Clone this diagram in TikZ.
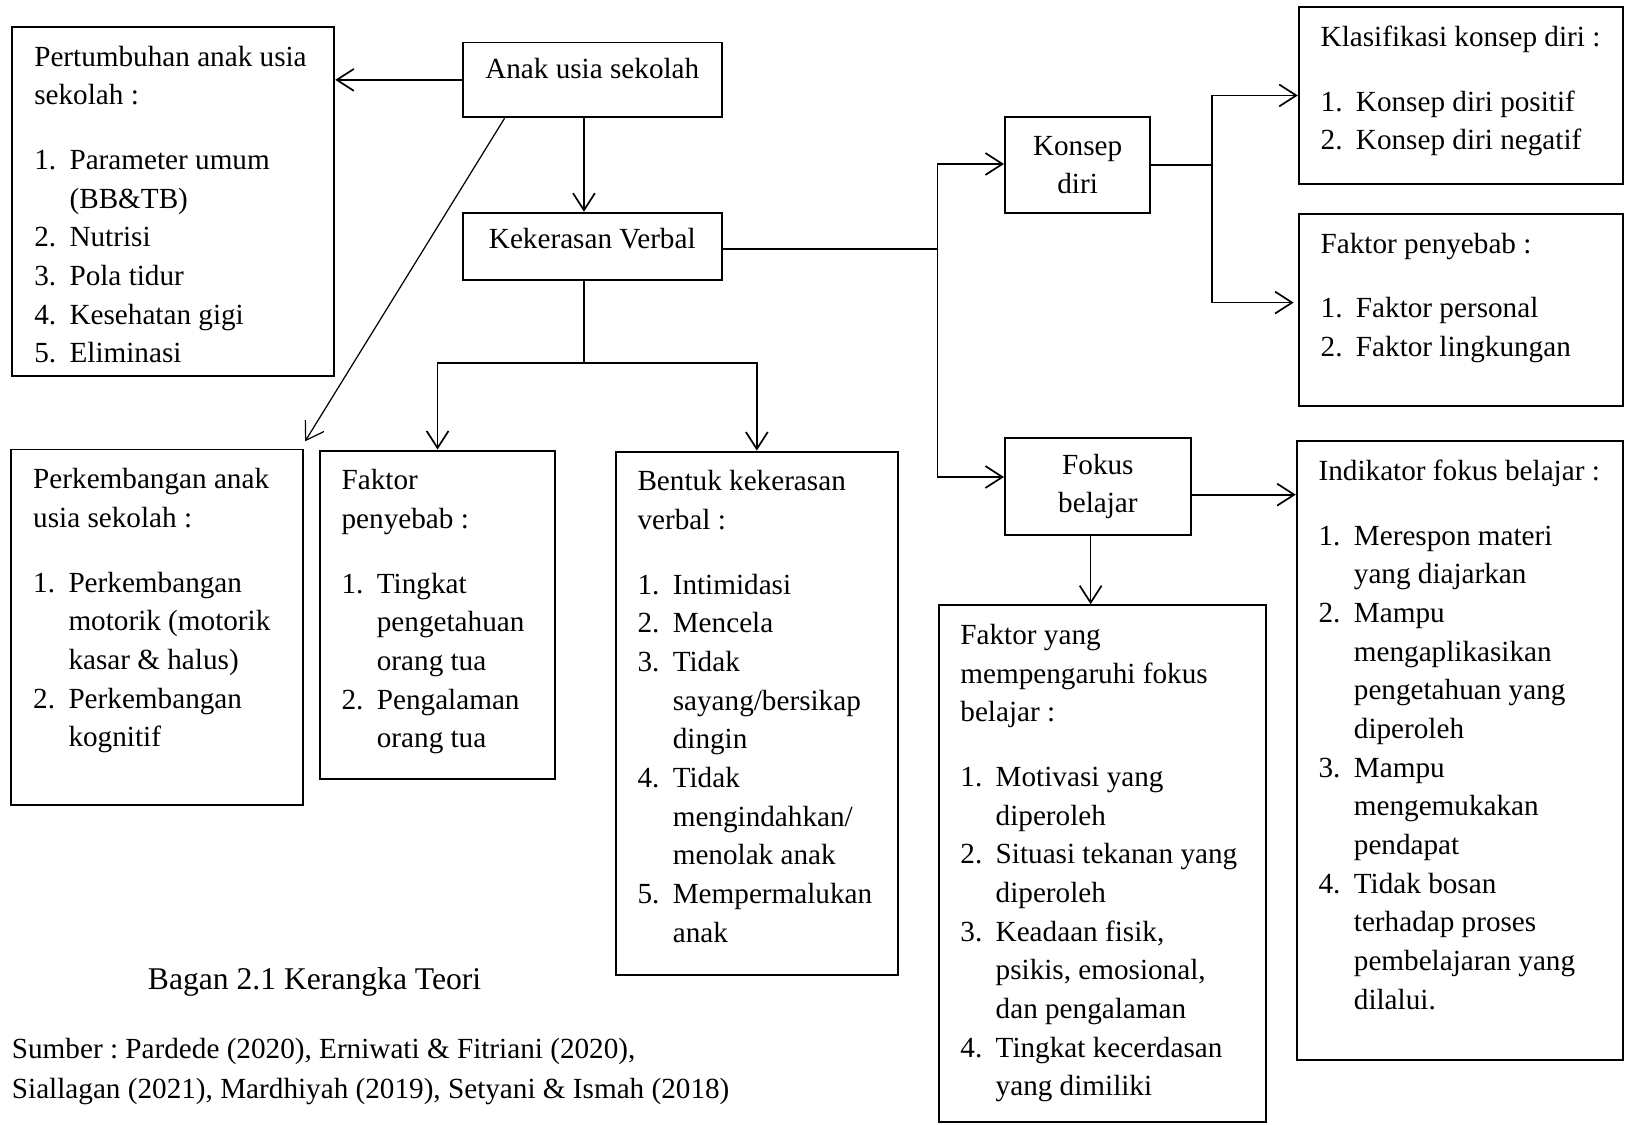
\documentclass[tikz,border=0pt]{standalone}
\usepackage{fontspec}
\setmainfont{Liberation Serif}
\usetikzlibrary{arrows.meta,calc}
\frenchspacing

\newlength\ux
\setlength\ux{0.4268pt}
% nomor butir daftar dan isi kotak (lebar, tinggi, isi)
\newcommand\nomor[1]{\makebox[14.5pt][l]{#1}}
\newcommand\daftar[3]{\parbox[t][\dimexpr#2\ux-10pt\relax][t]{\dimexpr#1\ux-18pt\relax}{\begin{tabular}[t]{@{}l@{}}#3\end{tabular}}}

\tikzset{
  kotak/.style={draw, line width=0.8pt, inner xsep=9pt, inner ysep=5pt, anchor=north west,
    font=\fontsize{12}{15.9}\selectfont},
  kotakc/.style 2 args={draw, line width=0.8pt, inner sep=0pt, anchor=north west, align=center,
    minimum width=#1*\ux, minimum height=#2*\ux, font=\fontsize{12}{15.9}\selectfont},
  garis/.style={line width=0.7pt},
  panah/.style={garis, -{Straight Barb[length=7pt,width=9pt]}},
}

\begin{document}
\begin{tikzpicture}[x=0.4268pt, y=-0.4268pt]
  \useasboundingbox (0,0) rectangle (1568,1083);

  % kotak tengah
  \node[kotakc={249}{72}, text depth=9.5pt] (anak) at (445,40) {Anak usia sekolah};
  \node[kotakc={249}{65}, text depth=7pt] (kek) at (445,204) {Kekerasan Verbal};
  \node[kotakc={140}{92}] (konsep) at (967,112) {Konsep\\diri};
  \node[kotakc={179}{93}] (fokus) at (967,421) {Fokus\\belajar};

  % kotak daftar
  \node[kotak] (pert) at (11,25) {\daftar{310}{336}{%
    Pertumbuhan anak usia\\
    sekolah :\\[10.7pt]
    \nomor{1.}Parameter umum\\
    \nomor{}(BB\&TB)\\
    \nomor{2.}Nutrisi\\
    \nomor{3.}Pola tidur\\
    \nomor{4.}Kesehatan gigi\\
    \nomor{5.}Eliminasi}};
  \node[kotak] (perk) at (10,432) {\daftar{281}{342}{%
    Perkembangan anak\\
    usia sekolah :\\[10.7pt]
    \nomor{1.}Perkembangan\\
    \nomor{}motorik (motorik\\
    \nomor{}kasar \& halus)\\
    \nomor{2.}Perkembangan\\
    \nomor{}kognitif}};
  \node[kotak] (fakm) at (307,433) {\daftar{227}{316}{%
    Faktor\\
    penyebab :\\[10.7pt]
    \nomor{1.}Tingkat\\
    \nomor{}pengetahuan\\
    \nomor{}orang tua\\
    \nomor{2.}Pengalaman\\
    \nomor{}orang tua}};
  \node[kotak] (bentuk) at (592,434) {\daftar{272}{504}{%
    Bentuk kekerasan\\
    verbal :\\[10.7pt]
    \nomor{1.}Intimidasi\\
    \nomor{2.}Mencela\\
    \nomor{3.}Tidak\\
    \nomor{}sayang/bersikap\\
    \nomor{}dingin\\
    \nomor{4.}Tidak\\
    \nomor{}mengindahkan/\\
    \nomor{}menolak anak\\
    \nomor{5.}Mempermalukan\\
    \nomor{}anak}};
  \node[kotak] (klas) at (1250,6) {\daftar{312}{170}{%
    Klasifikasi konsep diri :\\[10.7pt]
    \nomor{1.}Konsep diri positif\\
    \nomor{2.}Konsep diri negatif}};
  \node[kotak] (fakr) at (1250,205) {\daftar{312}{185}{%
    Faktor penyebab :\\[10.7pt]
    \nomor{1.}Faktor personal\\
    \nomor{2.}Faktor lingkungan}};
  \node[kotak] (ind) at (1248,424) {\daftar{314}{596}{%
    Indikator fokus belajar :\\[10.7pt]
    \nomor{1.}Merespon materi\\
    \nomor{}yang diajarkan\\
    \nomor{2.}Mampu\\
    \nomor{}mengaplikasikan\\
    \nomor{}pengetahuan yang\\
    \nomor{}diperoleh\\
    \nomor{3.}Mampu\\
    \nomor{}mengemukakan\\
    \nomor{}pendapat\\
    \nomor{4.}Tidak bosan\\
    \nomor{}terhadap proses\\
    \nomor{}pembelajaran yang\\
    \nomor{}dilalui.}};
  \node[kotak] (faky) at (903,582) {\daftar{315}{498}{%
    Faktor yang\\
    mempengaruhi fokus\\
    belajar :\\[10.7pt]
    \nomor{1.}Motivasi yang\\
    \nomor{}diperoleh\\
    \nomor{2.}Situasi tekanan yang\\
    \nomor{}diperoleh\\
    \nomor{3.}Keadaan fisik,\\
    \nomor{}psikis, emosional,\\
    \nomor{}dan pengalaman\\
    \nomor{4.}Tingkat kecerdasan\\
    \nomor{}yang dimiliki}};

  % keterangan
  \node[font=\fontsize{13}{16}\selectfont] (bagan) at (303,946) {Bagan 2.1 Kerangka Teori};
  \node[anchor=west, align=left, inner sep=0pt, font=\fontsize{12}{16.2}\selectfont] (sumber) at (11,1032)
    {Sumber : Pardede (2020), Erniwati \& Fitriani (2020),\\
     Siallagan (2021), Mardhiyah (2019), Setyani \& Ismah (2018)};

  % panah
  \draw[panah] (anak.west) -- (anak.west -| pert.east);
  \draw[panah] ($(anak.south)+(-8,0)$) -- ($(kek.north)+(-8,0)$);
  \draw[garis, -{Straight Barb[length=7pt,width=9pt]}, line width=0.5pt]
    ($(anak.south west)+(41,0)$) -- ($(perk.north east)+(1,-7)$);
  \draw[garis] ($(kek.south)+(-8,0)$) -- ++(0,79) coordinate (kj);
  \draw[panah] (kj) -| (fakm.north);
  \draw[panah] (kj) -| (bentuk.north);

  \coordinate (vr) at (903,240);
  \draw[garis] (kek.east |- vr) -- (vr);
  \draw[panah] (vr) |- ($(konsep.west)+(0,-1)$);
  \draw[panah] (vr) |- ($(fokus.west)+(0,-9)$);

  \coordinate (vk) at (1167,158);
  \draw[garis] (konsep.east) -- (konsep.east -| vk);
  \draw[panah] (konsep.east -| vk) |- (klas.west);
  \draw[panah] (konsep.east -| vk) |- ($(fakr.west)+(-4,-7)$);

  \draw[panah] ($(fokus.east)+(0,8)$) coordinate (fe) -- (fe -| ind.west);
  \draw[panah] ($(fokus.south)+(-7,0)$) coordinate (fd) -- (fd |- faky.north);
\end{tikzpicture}
\end{document}
